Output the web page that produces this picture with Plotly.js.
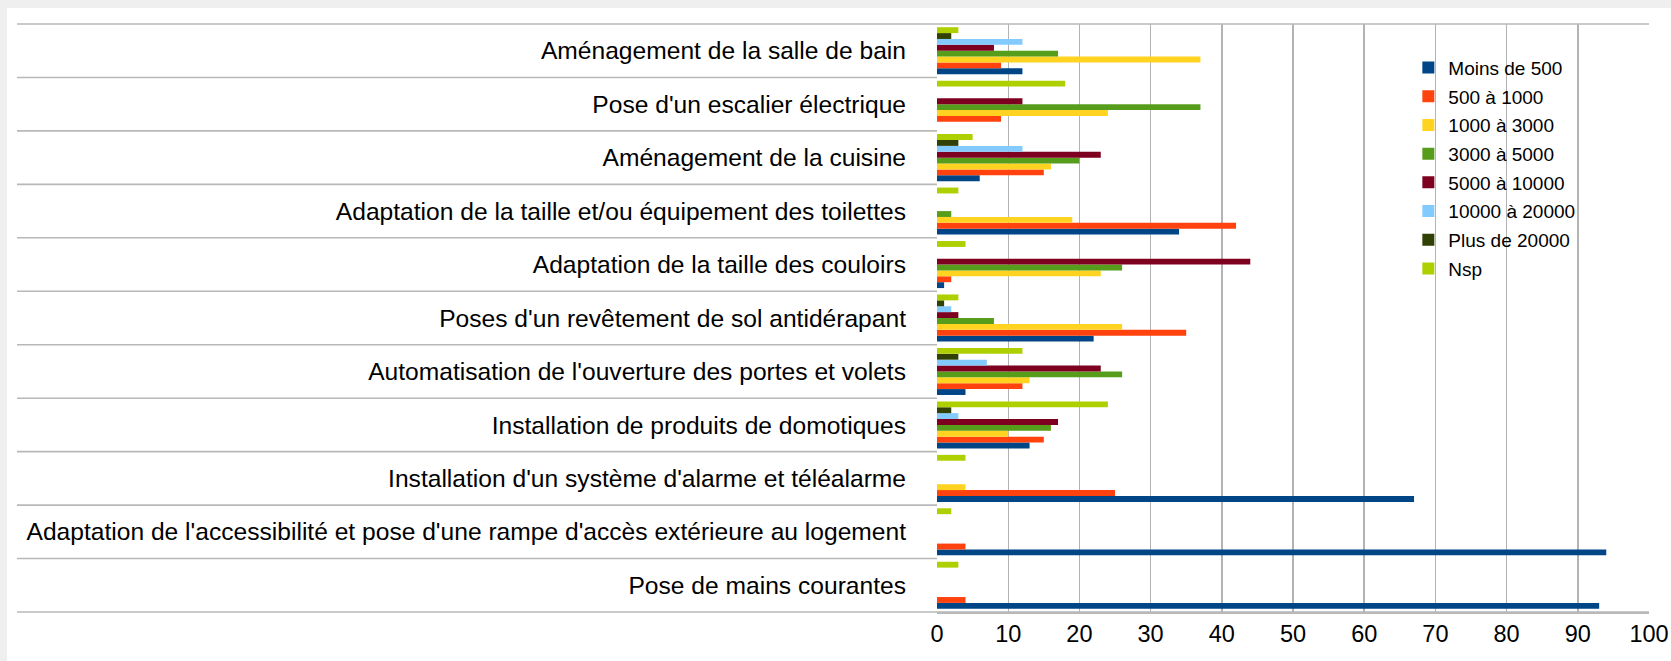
<!DOCTYPE html>
<html>
<head>
<meta charset="utf-8">
<script src="https://cdn.plot.ly/plotly-3.0.1.min.js"></script>
<style>html,body{margin:0;padding:0;background:#efefef;}#chart{width:1671px;height:661px;}</style>
</head>
<body>
<div id="chart"></div>
<script>
// Categories, top to bottom as shown
const categories = [
  "Aménagement de la salle de bain",
  "Pose d'un escalier électrique",
  "Aménagement de la cuisine",
  "Adaptation de la taille et/ou équipement des toilettes",
  "Adaptation de la taille des couloirs",
  "Poses d'un revêtement de sol antidérapant",
  "Automatisation de l'ouverture des portes et volets",
  "Installation de produits de domotiques",
  "Installation d'un système d'alarme et téléalarme",
  "Adaptation de l'accessibilité et pose d'une rampe d'accès extérieure au logement",
  "Pose de mains courantes"
];

const seriesNames = ["Moins de 500","500 à 1000","1000 à 3000","3000 à 5000","5000 à 10000","10000 à 20000","Plus de 20000","Nsp"];

const moins500   = [12, 0,  6, 34,  1, 22,  4, 13, 67, 94, 93];
const s500_1000  = [ 9, 9, 15, 42,  2, 35, 12, 15, 25,  4,  4];
const s1000_3000 = [37, 24, 16, 19, 23, 26, 13, 10,  4,  0,  0];
const s3000_5000 = [17, 37, 20,  2, 26,  8, 26, 16,  0,  0,  0];
const s5000_10000= [ 8, 12, 23,  0, 44,  3, 23, 17,  0,  0,  0];
const s10000_20000=[12, 0, 12,  0,  0,  2,  7,  3,  0,  0,  0];
const plus20000  = [ 2, 0,  3,  0,  0,  1,  3,  2,  0,  0,  0];
const nsp        = [ 3, 18, 5,  3,  4,  3, 12, 24,  4,  2,  3];

const seriesValues = [moins500, s500_1000, s1000_3000, s3000_5000, s5000_10000, s10000_20000, plus20000, nsp];
const seriesColors = ["#004586","#ff420e","#ffd320","#579d1c","#7e0021","#83caff","#314004","#aecf00"];

const xTicks = [0,10,20,30,40,50,60,70,80,90,100];

const traces = seriesNames.map((name, i) => ({
  type: 'bar',
  orientation: 'h',
  name: name,
  legendgroup: name,
  x: seriesValues[i],
  y: categories,
  marker: {color: seriesColors[i], line: {width: 0}},
  hoverinfo: 'x+y+name'
}));

// plot geometry (pixels)
const W = 1671, H = 661;
const mL = 937, mR = 22, mT = 24, mB = 49;
const pw = W - mL - mR, ph = H - mT - mB;
const px2x = p => (p - mL) / pw;
const px2y = p => (H - mB - p) / ph;

const N = categories.length;
const shapes = [];
// panel white background with grey frame on top/left
shapes.push({type:'rect', xref:'paper', yref:'paper', layer:'below',
  x0: px2x(7), x1: px2x(W + 5), y0: px2y(H + 5), y1: px2y(8),
  fillcolor:'#ffffff', line:{width:0}});
// category separators
for (let k = 0; k <= N; k++) {
  const edge = (k === 0 || k === N);
  shapes.push({type:'line', xref:'paper', yref:'paper', layer:'above',
    x0: px2x(17), x1: edge ? 1 : 0, y0: k / N, y1: k / N,
    line:{color:'#b8b8b8', width:1.6}});
}

const layout = {
  width: W, height: H,
  margin: {l: mL, r: mR, t: mT, b: mB, pad: 0},
  paper_bgcolor: '#efefef',
  plot_bgcolor: 'rgba(0,0,0,0)',
  font: {family: '"Liberation Sans", Arial, sans-serif', color: '#000000'},
  barmode: 'group',
  bargap: 0.12,
  bargroupgap: 0,
  showlegend: true,
  legend: {
    x: 0.662, xanchor: 'left', y: 0.958, yanchor: 'top',
    bgcolor: 'rgba(0,0,0,0)', borderwidth: 0,
    font: {size: 19, family: '"Liberation Sans", Arial, sans-serif', color: '#000'},
    traceorder: 'grouped', tracegroupgap: 1
  },
  xaxis: {
    range: [0, 100],
    tickvals: xTicks,
    ticktext: xTicks.map(String),
    showgrid: true, gridcolor: '#b3b3b3', gridwidth: 1.4,
    zeroline: false, showline: true, linecolor: '#b8b8b8', linewidth: 1.6,
    ticks: '', tickfont: {size: 23.5, color: '#000'},
    fixedrange: true
  },
  yaxis: {
    type: 'category',
    categoryorder: 'array',
    categoryarray: categories.slice().reverse(),
    range: [-0.5, N - 0.5],
    showgrid: false, zeroline: false, showline: false,
    ticks: '', ticklabelstandoff: 30,
    tickfont: {size: 24.6, color: '#000'},
    fixedrange: true
  },
  shapes: shapes
};

Plotly.newPlot('chart', traces, layout, {displayModeBar: false, staticPlot: true});
</script>
</body>
</html>
